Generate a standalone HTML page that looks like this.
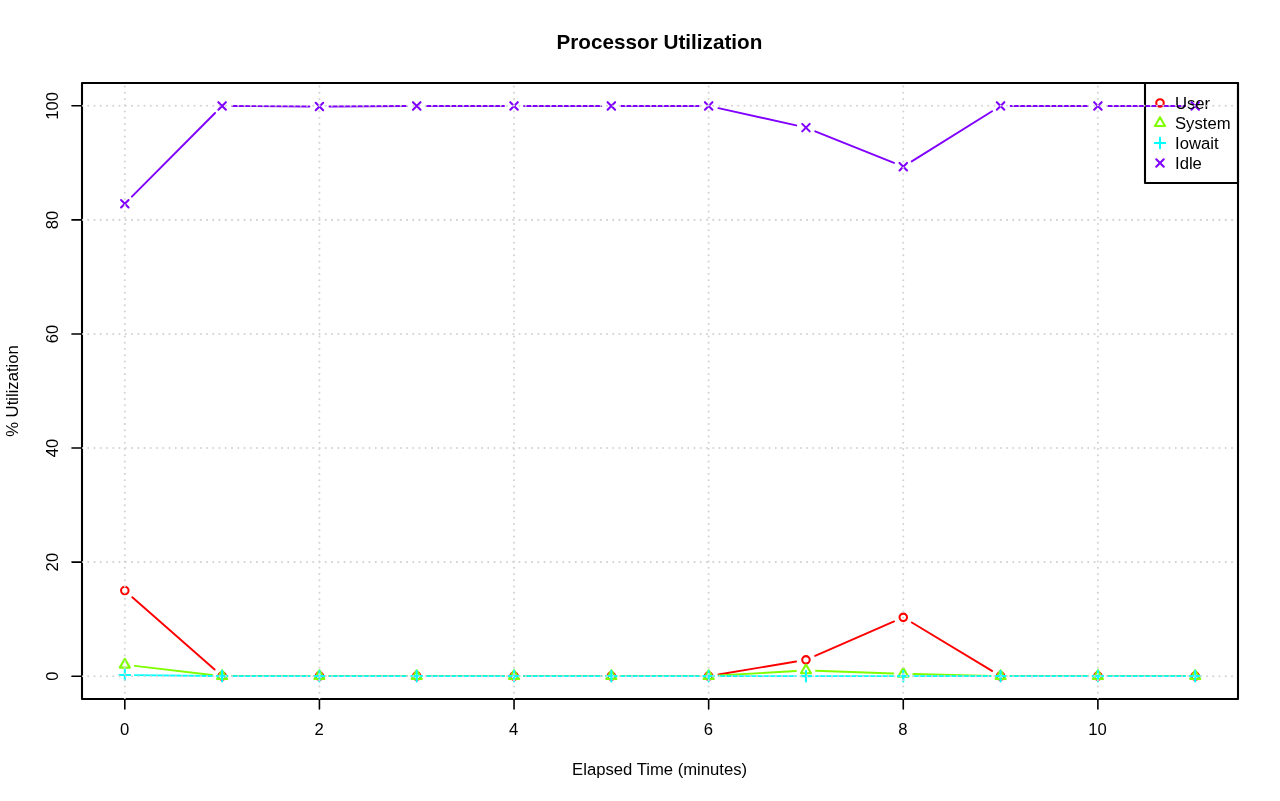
<!DOCTYPE html>
<html><head><meta charset="utf-8"><title>Processor Utilization</title>
<style>
html,body{margin:0;padding:0;background:#fff;}
body{width:1280px;height:801px;overflow:hidden;}
svg{display:block;will-change:transform;font-family:"Liberation Sans",sans-serif;font-size:16.67px;fill:#000;}
</style></head><body>
<svg width="1280" height="801" viewBox="0 0 1280 801">
<rect width="1280" height="801" fill="#fff"/>
<path d="M132.33 597.18L214.61 669.50M232.12 676.10L309.43 676.10M329.43 676.10L406.73 676.10M426.73 676.10L504.04 676.10M524.04 676.10L601.35 676.10M621.35 676.10L698.65 676.10M718.52 674.45L796.10 661.50M815.12 655.85L894.10 621.38M911.83 622.54L992.01 670.93M1010.57 676.10L1087.88 676.10M1107.88 676.10L1185.19 676.10" fill="none" stroke="#FF0000" stroke-width="1.9" stroke-linecap="round"/>
<circle cx="124.81" cy="590.58" r="3.75" fill="none" stroke="#FF0000" stroke-width="2.08"/>
<circle cx="222.12" cy="676.10" r="3.75" fill="none" stroke="#FF0000" stroke-width="2.08"/>
<circle cx="319.43" cy="676.10" r="3.75" fill="none" stroke="#FF0000" stroke-width="2.08"/>
<circle cx="416.73" cy="676.10" r="3.75" fill="none" stroke="#FF0000" stroke-width="2.08"/>
<circle cx="514.04" cy="676.10" r="3.75" fill="none" stroke="#FF0000" stroke-width="2.08"/>
<circle cx="611.35" cy="676.10" r="3.75" fill="none" stroke="#FF0000" stroke-width="2.08"/>
<circle cx="708.65" cy="676.10" r="3.75" fill="none" stroke="#FF0000" stroke-width="2.08"/>
<circle cx="805.96" cy="659.85" r="3.75" fill="none" stroke="#FF0000" stroke-width="2.08"/>
<circle cx="903.27" cy="617.37" r="3.75" fill="none" stroke="#FF0000" stroke-width="2.08"/>
<circle cx="1000.57" cy="676.10" r="3.75" fill="none" stroke="#FF0000" stroke-width="2.08"/>
<circle cx="1097.88" cy="676.10" r="3.75" fill="none" stroke="#FF0000" stroke-width="2.08"/>
<circle cx="1195.19" cy="676.10" r="3.75" fill="none" stroke="#FF0000" stroke-width="2.08"/>
<path d="M134.75 665.86L212.19 674.94M232.12 676.10L309.43 676.10M329.43 676.10L406.73 676.10M426.73 676.10L504.04 676.10M524.04 676.10L601.35 676.10M621.35 676.10L698.65 676.10M718.64 675.52L795.98 670.98M815.95 670.75L893.27 673.47M913.26 674.05L990.58 675.87M1010.57 676.10L1087.88 676.10M1107.88 676.10L1185.19 676.10" fill="none" stroke="#80FF00" stroke-width="1.9" stroke-linecap="round"/>
<path d="M124.81 658.87L129.87 667.61L119.76 667.61Z" fill="none" stroke="#80FF00" stroke-width="2.08" stroke-linejoin="round"/>
<path d="M222.12 670.27L227.17 679.02L217.07 679.02Z" fill="none" stroke="#80FF00" stroke-width="2.08" stroke-linejoin="round"/>
<path d="M319.43 670.27L324.48 679.02L314.38 679.02Z" fill="none" stroke="#80FF00" stroke-width="2.08" stroke-linejoin="round"/>
<path d="M416.73 670.27L421.78 679.02L411.68 679.02Z" fill="none" stroke="#80FF00" stroke-width="2.08" stroke-linejoin="round"/>
<path d="M514.04 670.27L519.09 679.02L508.99 679.02Z" fill="none" stroke="#80FF00" stroke-width="2.08" stroke-linejoin="round"/>
<path d="M611.35 670.27L616.40 679.02L606.30 679.02Z" fill="none" stroke="#80FF00" stroke-width="2.08" stroke-linejoin="round"/>
<path d="M708.65 670.27L713.70 679.02L703.60 679.02Z" fill="none" stroke="#80FF00" stroke-width="2.08" stroke-linejoin="round"/>
<path d="M805.96 664.57L811.01 673.31L800.91 673.31Z" fill="none" stroke="#80FF00" stroke-width="2.08" stroke-linejoin="round"/>
<path d="M903.27 667.99L908.32 676.74L898.22 676.74Z" fill="none" stroke="#80FF00" stroke-width="2.08" stroke-linejoin="round"/>
<path d="M1000.57 670.27L1005.62 679.02L995.52 679.02Z" fill="none" stroke="#80FF00" stroke-width="2.08" stroke-linejoin="round"/>
<path d="M1097.88 670.27L1102.93 679.02L1092.83 679.02Z" fill="none" stroke="#80FF00" stroke-width="2.08" stroke-linejoin="round"/>
<path d="M1195.19 670.27L1200.24 679.02L1190.13 679.02Z" fill="none" stroke="#80FF00" stroke-width="2.08" stroke-linejoin="round"/>
<path d="M134.81 675.08L212.12 675.98M232.12 676.10L309.43 676.10M329.43 676.10L406.73 676.10M426.73 676.10L504.04 676.10M524.04 676.10L601.35 676.10M621.35 676.10L698.65 676.10M718.65 676.10L795.96 676.10M815.96 676.10L893.27 676.10M913.27 676.10L990.57 676.10M1010.57 676.10L1087.88 676.10M1107.88 676.10L1185.19 676.10" fill="none" stroke="#00FFFF" stroke-width="1.9" stroke-linecap="round"/>
<path d="M119.51 674.96H130.12M124.81 669.66V680.26" fill="none" stroke="#00FFFF" stroke-width="2.08" stroke-linecap="round"/>
<path d="M216.82 676.10H227.42M222.12 670.80V681.40" fill="none" stroke="#00FFFF" stroke-width="2.08" stroke-linecap="round"/>
<path d="M314.12 676.10H324.73M319.43 670.80V681.40" fill="none" stroke="#00FFFF" stroke-width="2.08" stroke-linecap="round"/>
<path d="M411.43 676.10H422.04M416.73 670.80V681.40" fill="none" stroke="#00FFFF" stroke-width="2.08" stroke-linecap="round"/>
<path d="M508.74 676.10H519.34M514.04 670.80V681.40" fill="none" stroke="#00FFFF" stroke-width="2.08" stroke-linecap="round"/>
<path d="M606.04 676.10H616.65M611.35 670.80V681.40" fill="none" stroke="#00FFFF" stroke-width="2.08" stroke-linecap="round"/>
<path d="M703.35 676.10H713.96M708.65 670.80V681.40" fill="none" stroke="#00FFFF" stroke-width="2.08" stroke-linecap="round"/>
<path d="M800.66 676.10H811.26M805.96 670.80V681.40" fill="none" stroke="#00FFFF" stroke-width="2.08" stroke-linecap="round"/>
<path d="M897.96 676.10H908.57M903.27 670.80V681.40" fill="none" stroke="#00FFFF" stroke-width="2.08" stroke-linecap="round"/>
<path d="M995.27 676.10H1005.88M1000.57 670.80V681.40" fill="none" stroke="#00FFFF" stroke-width="2.08" stroke-linecap="round"/>
<path d="M1092.58 676.10H1103.18M1097.88 670.80V681.40" fill="none" stroke="#00FFFF" stroke-width="2.08" stroke-linecap="round"/>
<path d="M1189.88 676.10H1200.49M1195.19 670.80V681.40" fill="none" stroke="#00FFFF" stroke-width="2.08" stroke-linecap="round"/>
<path d="M131.87 196.64L215.07 113.04M232.12 106.01L309.43 106.46M329.43 106.46L406.73 106.01M426.73 105.95L504.04 105.95M524.04 105.95L601.35 105.95M621.35 105.95L698.65 105.95M718.41 108.12L796.20 125.44M815.24 131.34L893.99 162.95M911.75 161.38L992.09 111.24M1010.57 105.95L1087.88 105.95M1107.88 105.95L1185.19 105.95" fill="none" stroke="#8000FF" stroke-width="1.9" stroke-linecap="round"/>
<path d="M121.06 199.98L128.56 207.48M121.06 207.48L128.56 199.98" fill="none" stroke="#8000FF" stroke-width="2.08" stroke-linecap="round"/>
<path d="M218.37 102.20L225.87 109.70M218.37 109.70L225.87 102.20" fill="none" stroke="#8000FF" stroke-width="2.08" stroke-linecap="round"/>
<path d="M315.68 102.77L323.18 110.27M315.68 110.27L323.18 102.77" fill="none" stroke="#8000FF" stroke-width="2.08" stroke-linecap="round"/>
<path d="M412.98 102.20L420.48 109.70M412.98 109.70L420.48 102.20" fill="none" stroke="#8000FF" stroke-width="2.08" stroke-linecap="round"/>
<path d="M510.29 102.20L517.79 109.70M510.29 109.70L517.79 102.20" fill="none" stroke="#8000FF" stroke-width="2.08" stroke-linecap="round"/>
<path d="M607.60 102.20L615.10 109.70M607.60 109.70L615.10 102.20" fill="none" stroke="#8000FF" stroke-width="2.08" stroke-linecap="round"/>
<path d="M704.90 102.20L712.40 109.70M704.90 109.70L712.40 102.20" fill="none" stroke="#8000FF" stroke-width="2.08" stroke-linecap="round"/>
<path d="M802.21 123.87L809.71 131.37M802.21 131.37L809.71 123.87" fill="none" stroke="#8000FF" stroke-width="2.08" stroke-linecap="round"/>
<path d="M899.52 162.92L907.02 170.42M899.52 170.42L907.02 162.92" fill="none" stroke="#8000FF" stroke-width="2.08" stroke-linecap="round"/>
<path d="M996.82 102.20L1004.32 109.70M996.82 109.70L1004.32 102.20" fill="none" stroke="#8000FF" stroke-width="2.08" stroke-linecap="round"/>
<path d="M1094.13 102.20L1101.63 109.70M1094.13 109.70L1101.63 102.20" fill="none" stroke="#8000FF" stroke-width="2.08" stroke-linecap="round"/>
<path d="M1191.44 102.20L1198.94 109.70M1191.44 109.70L1198.94 102.20" fill="none" stroke="#8000FF" stroke-width="2.08" stroke-linecap="round"/>
<rect x="82.0" y="83.0" width="1156.0" height="616.0" fill="none" stroke="#000" stroke-width="2.08" stroke-linejoin="round"/>
<path d="M124.81 699.0V709.0" stroke="#000" stroke-width="1.6" stroke-linecap="round"/><text x="124.51" y="735" text-anchor="middle">0</text><path d="M319.43 699.0V709.0" stroke="#000" stroke-width="1.6" stroke-linecap="round"/><text x="319.13" y="735" text-anchor="middle">2</text><path d="M514.04 699.0V709.0" stroke="#000" stroke-width="1.6" stroke-linecap="round"/><text x="513.74" y="735" text-anchor="middle">4</text><path d="M708.65 699.0V709.0" stroke="#000" stroke-width="1.6" stroke-linecap="round"/><text x="708.35" y="735" text-anchor="middle">6</text><path d="M903.27 699.0V709.0" stroke="#000" stroke-width="1.6" stroke-linecap="round"/><text x="902.97" y="735" text-anchor="middle">8</text><path d="M1097.88 699.0V709.0" stroke="#000" stroke-width="1.6" stroke-linecap="round"/><text x="1097.58" y="735" text-anchor="middle">10</text><path d="M82.0 676.19H72.0" stroke="#000" stroke-width="1.6" stroke-linecap="round"/><text transform="translate(58 676.19) rotate(-90)" text-anchor="middle">0</text><path d="M82.0 562.11H72.0" stroke="#000" stroke-width="1.6" stroke-linecap="round"/><text transform="translate(58 562.11) rotate(-90)" text-anchor="middle">20</text><path d="M82.0 448.04H72.0" stroke="#000" stroke-width="1.6" stroke-linecap="round"/><text transform="translate(58 448.04) rotate(-90)" text-anchor="middle">40</text><path d="M82.0 333.96H72.0" stroke="#000" stroke-width="1.6" stroke-linecap="round"/><text transform="translate(58 333.96) rotate(-90)" text-anchor="middle">60</text><path d="M82.0 219.89H72.0" stroke="#000" stroke-width="1.6" stroke-linecap="round"/><text transform="translate(58 219.89) rotate(-90)" text-anchor="middle">80</text><path d="M82.0 105.81H72.0" stroke="#000" stroke-width="1.6" stroke-linecap="round"/><text transform="translate(58 105.81) rotate(-90)" text-anchor="middle">100</text>
<text transform="translate(659.4 49) scale(1.035 1)" text-anchor="middle" font-weight="bold" font-size="20px">Processor Utilization</text>
<text x="659.6" y="775" text-anchor="middle">Elapsed Time (minutes)</text>
<text transform="translate(18 391) rotate(-90)" text-anchor="middle">% Utilization</text>
<rect x="1145.0" y="83.0" width="93.0" height="100.0" fill="none" stroke="#000" stroke-width="2.08" stroke-linejoin="round"/><circle cx="1160.00" cy="103.00" r="3.75" fill="none" stroke="#FF0000" stroke-width="2.08"/><text x="1175" y="108.80">User</text><path d="M1160.00 117.17L1165.05 125.92L1154.95 125.92Z" fill="none" stroke="#80FF00" stroke-width="2.08" stroke-linejoin="round"/><text x="1175" y="128.80">System</text><path d="M1154.70 143.00H1165.30M1160.00 137.70V148.30" fill="none" stroke="#00FFFF" stroke-width="2.08" stroke-linecap="round"/><text x="1175" y="148.80">Iowait</text><path d="M1156.25 159.25L1163.75 166.75M1156.25 166.75L1163.75 159.25" fill="none" stroke="#8000FF" stroke-width="2.08" stroke-linecap="round"/><text x="1175" y="168.80">Idle</text>
<clipPath id="pc"><rect x="82.0" y="83.0" width="1156.0" height="616.0"/></clipPath>
<g clip-path="url(#pc)"><path d="M124.81 699.0V83.0" stroke="#D3D3D3" stroke-width="2.083" stroke-dasharray="0.01 6.24" stroke-linecap="round" fill="none"/><path d="M319.43 699.0V83.0" stroke="#D3D3D3" stroke-width="2.083" stroke-dasharray="0.01 6.24" stroke-linecap="round" fill="none"/><path d="M514.04 699.0V83.0" stroke="#D3D3D3" stroke-width="2.083" stroke-dasharray="0.01 6.24" stroke-linecap="round" fill="none"/><path d="M708.65 699.0V83.0" stroke="#D3D3D3" stroke-width="2.083" stroke-dasharray="0.01 6.24" stroke-linecap="round" fill="none"/><path d="M903.27 699.0V83.0" stroke="#D3D3D3" stroke-width="2.083" stroke-dasharray="0.01 6.24" stroke-linecap="round" fill="none"/><path d="M1097.88 699.0V83.0" stroke="#D3D3D3" stroke-width="2.083" stroke-dasharray="0.01 6.24" stroke-linecap="round" fill="none"/><path d="M82.0 676.19H1238.0" stroke="#D3D3D3" stroke-width="2.083" stroke-dasharray="0.01 6.24" stroke-linecap="round" fill="none"/><path d="M82.0 562.11H1238.0" stroke="#D3D3D3" stroke-width="2.083" stroke-dasharray="0.01 6.24" stroke-linecap="round" fill="none"/><path d="M82.0 448.04H1238.0" stroke="#D3D3D3" stroke-width="2.083" stroke-dasharray="0.01 6.24" stroke-linecap="round" fill="none"/><path d="M82.0 333.96H1238.0" stroke="#D3D3D3" stroke-width="2.083" stroke-dasharray="0.01 6.24" stroke-linecap="round" fill="none"/><path d="M82.0 219.89H1238.0" stroke="#D3D3D3" stroke-width="2.083" stroke-dasharray="0.01 6.24" stroke-linecap="round" fill="none"/><path d="M82.0 105.81H1238.0" stroke="#D3D3D3" stroke-width="2.083" stroke-dasharray="0.01 6.24" stroke-linecap="round" fill="none"/></g>
</svg>
</body></html>
